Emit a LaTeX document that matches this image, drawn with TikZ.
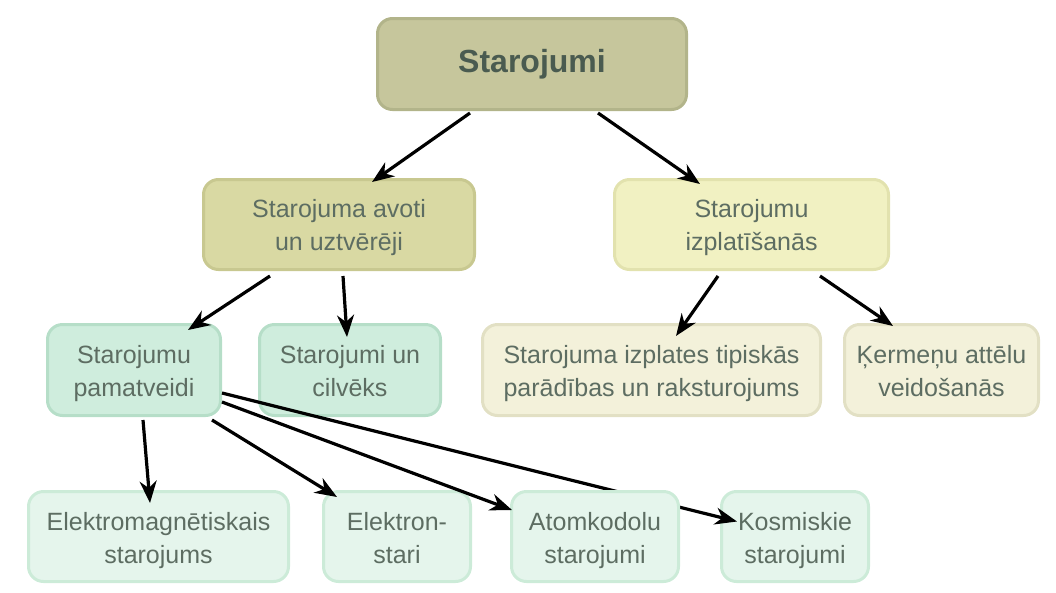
\documentclass[tikz,border=0pt]{standalone}
\usepackage{fontspec}
\setmainfont{Liberation Sans}
\usetikzlibrary{arrows.meta,calc}
\definecolor{txt}{HTML}{5D6D62}
\definecolor{txtb}{HTML}{4A5B50}
\definecolor{topf}{HTML}{C6C69C}
\definecolor{topd}{HTML}{B2B48A}
\definecolor{avf}{HTML}{D9D9A3}
\definecolor{avd}{HTML}{C8C890}
\definecolor{izf}{HTML}{F1F1C2}
\definecolor{izd}{HTML}{E2E2AE}
\definecolor{tpf}{HTML}{F3F1DA}
\definecolor{tpd}{HTML}{E2E0C4}
\definecolor{pmf}{HTML}{CFEDDD}
\definecolor{pmd}{HTML}{B6DEC8}
\definecolor{btf}{HTML}{E5F5EC}
\definecolor{btd}{HTML}{CCEBD8}
\newcommand{\twol}[3][-3pt]{\raisebox{#1}[\height][\depth]{\begin{tabular}{@{}c@{}}#2\\#3\end{tabular}}}
\tikzset{
  x=1pt,y=1pt,
  box/.style={rounded corners=15pt, line width=3pt, align=center, inner sep=0pt,
    text=txt, font=\fontsize{25}{33}\selectfont},
  topbox/.style={box, fill=topf, draw=topd, text=txtb, font=\fontsize{32}{38}\selectfont\bfseries},
  avbox/.style={box, fill=avf, draw=avd},
  izbox/.style={box, fill=izf, draw=izd},
  tpbox/.style={box, fill=tpf, draw=tpd},
  pmbox/.style={box, fill=pmf, draw=pmd},
  btbox/.style={box, fill=btf, draw=btd},
  conn/.style={line width=3.2pt, -{Stealth[length=22pt,width=17pt,inset=7pt]}, black},
}
\begin{document}
\begin{tikzpicture}
\useasboundingbox (0,0) rectangle (1056,-592);
\node[topbox, minimum width=309pt, minimum height=91pt] (top) at (532,-64) {Starojumi};
\node[avbox, minimum width=271pt, minimum height=90pt] (av) at (339,-224.5) {\twol{Starojuma avoti}{un uztvērēji}};
\node[izbox, minimum width=274pt, minimum height=90pt] (iz) at (751.5,-224.5) {\twol{Starojumu}{izplatīšanās}};
\node[pmbox, minimum width=173pt, minimum height=91pt] (pam) at (134,-370) {\twol{Starojumu}{pamatveidi}};
\node[pmbox, minimum width=181pt, minimum height=91pt] (cil) at (350,-370) {\twol{Starojumi un}{cilvēks}};
\node[tpbox, minimum width=338pt, minimum height=91pt] (tip) at (651.5,-370) {\twol{Starojuma izplates tipiskās}{parādības un raksturojums}};
\node[tpbox, minimum width=194pt, minimum height=91pt] (ker) at (941.5,-370) {\twol{Ķermeņu attēlu}{veidošanās}};
\node[btbox, minimum width=260pt, minimum height=90pt] (em) at (158.5,-536.5) {\twol[-4pt]{Elektromagnētiskais}{starojums}};
\node[btbox, minimum width=147pt, minimum height=90pt] (el) at (397,-536.5) {\twol[-4pt]{Elektron-}{stari}};
\node[btbox, minimum width=147pt, minimum height=90pt] (kos) at (795,-536.5) {\twol[-4pt]{Kosmiskie}{starojumi}};
\draw[conn] ($(pam)+(88,-23)$) -- ($(kos)+(-58,15)$);
\node[btbox, minimum width=167pt, minimum height=90pt] (at) at (595,-536.5) {\twol[-4pt]{Atomkodolu}{starojumi}};
\draw[conn] ($(top)+(-62,-49)$) -- ($(av)+(33,42.5)$);
\draw[conn] ($(top)+(66,-49)$) -- ($(iz)+(-51.5,40.5)$);
\draw[conn] ($(av)+(-69,-51.5)$) -- ($(pam)+(54,40)$);
\draw[conn] ($(av)+(4,-51.5)$) -- ($(cil)+(-3,33)$);
\draw[conn] ($(iz)+(-33.5,-51.5)$) -- ($(tip)+(24.5,34)$);
\draw[conn] ($(iz)+(68.5,-51.5)$) -- ($(ker)+(-48.5,44)$);
\draw[conn] ($(pam)+(9,-50)$) -- ($(em)+(-8.5,33.5)$);
\draw[conn] ($(pam)+(78,-50)$) -- ($(el)+(-60,39.5)$);
\draw[conn] ($(pam)+(88,-32)$) -- ($(at)+(-83,26.5)$);
\end{tikzpicture}
\end{document}
